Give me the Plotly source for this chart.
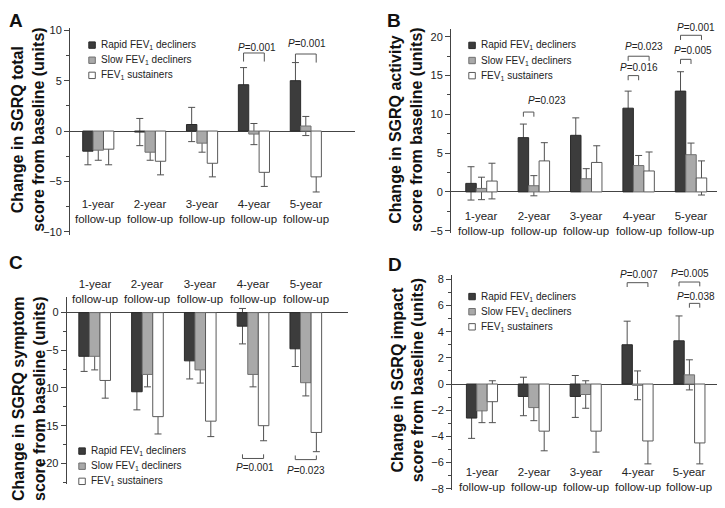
import plotly.graph_objects as go

followups = ["1-year follow-up", "2-year follow-up", "3-year follow-up",
             "4-year follow-up", "5-year follow-up"]
groups = ["Rapid FEV<sub>1</sub> decliners", "Slow FEV<sub>1</sub> decliners",
          "FEV<sub>1</sub> sustainers"]

# A - SGRQ total score
total_rapid = [-2.0, -0.1, 0.65, 4.6, 5.0]
total_rapid_err = [1.35, 1.35, 1.7, 1.7, 1.8]
total_slow = [-1.9, -2.1, -1.2, -0.3, 0.5]
total_slow_err = [1.0, 0.8, 0.9, 1.05, 0.95]
total_sust = [-1.8, -3.0, -3.2, -4.1, -4.55]
total_sust_err = [1.55, 1.35, 1.35, 1.4, 1.5]

# B - SGRQ activity score
activity_rapid = [1.1, 7.0, 7.3, 10.8, 13.0]
activity_rapid_err = [2.15, 1.75, 2.25, 2.2, 2.5]
activity_slow = [0.45, 0.8, 1.7, 3.4, 4.8]
activity_slow_err = [1.45, 1.3, 1.3, 1.3, 1.5]
activity_sust = [1.4, 4.0, 3.8, 2.7, 1.8]
activity_sust_err = [2.3, 2.35, 2.15, 2.45, 2.2]

# C - SGRQ symptom score
symptom_rapid = [-5.8, -10.5, -6.4, -1.8, -4.8]
symptom_rapid_err = [2.0, 2.4, 2.4, 2.35, 2.35]
symptom_slow = [-5.8, -8.2, -7.6, -8.2, -9.3]
symptom_slow_err = [1.8, 1.65, 1.75, 1.65, 1.75]
symptom_sust = [-9.0, -13.8, -14.4, -15.0, -15.9]
symptom_sust_err = [2.35, 2.3, 2.05, 2.0, 2.55]

# D - SGRQ impact score
impact_rapid = [-2.6, -0.95, -0.95, 3.0, 3.3]
impact_rapid_err = [1.55, 1.47, 1.6, 1.8, 1.9]
impact_slow = [-2.05, -1.8, -0.8, -0.1, 0.7]
impact_slow_err = [0.9, 1.0, 1.05, 1.1, 1.15]
impact_sust = [-1.35, -3.6, -3.6, -4.35, -4.5]
impact_sust_err = [1.6, 1.5, 1.6, 1.75, 1.6]

# comparisons: (follow-up index, group a, group b, P value)
total_p = [(3, 0, 2, "0.001"), (4, 0, 2, "0.001")]
activity_p = [(1, 0, 1, "0.023"), (3, 0, 1, "0.016"), (3, 0, 2, "0.023"),
              (4, 0, 2, "0.001"), (4, 0, 1, "0.005")]
symptom_p = [(3, 0, 2, "0.001"), (4, 0, 2, "0.023")]
impact_p = [(3, 0, 2, "0.007"), (4, 0, 2, "0.005"), (4, 1, 2, "0.038")]

W, H = 725, 508
OFF = 8  # page body margin: the figure is drawn 8px in from the window corner
FONT = "Liberation Sans, Arial, sans-serif"
fills = ["#3c3c3c", "#a9a9a9", "#ffffff"]
edges = ["#2a2a2a", "#707070", "#5a5a5a"]
shift = [-0.2, 0.0, 0.2]
BW = 0.2
ERRC = "#505050"


# screen pixel -> paper fraction
def px(x):
    return (x - OFF) / W


def py(y):
    return 1 - (y - OFF) / H


panels = [
    dict(letter="A", title="Change in SGRQ total<br>score from baseline (units)",
         series=[(total_rapid, total_rapid_err), (total_slow, total_slow_err),
                 (total_sust, total_sust_err)],
         pvals=total_p, brackets=[(7.75, 8.25, 0.05), (7.65, 8.7, 0.03)], tick=-0.85,
         xpx=(70, 355), ypx=(24.1, 234.8), yrange=[-10.3, 10.25], xrange=[-0.545, 4.948],
         dtick=5, minor=2.5, cat_y=-8.0, legend=(88.3, 41.7),
         title_xy=(28, 128), letter_xy=(16, 17)),
    dict(letter="B", title="Change in SGRQ activity<br>score from baseline (units)",
         series=[(activity_rapid, activity_rapid_err), (activity_slow, activity_slow_err),
                 (activity_sust, activity_sust_err)],
         pvals=activity_p,
         brackets=[(10.3, 11.75, 0.36), (15.0, 16.0, 0.1), (17.5, 18.7, 0.1),
                   (20.2, 21.2, 0.1), (17.1, 18.3, 0.14)], tick=-0.6,
         xpx=(451, 725), ypx=(25.0, 233.0), yrange=[-5.3, 21.05], xrange=[-0.582, 4.649],
         dtick=5, minor=2.5, cat_y=-4.1, legend=(468.3, 42),
         title_xy=(406, 128), letter_xy=(394, 17)),
    dict(letter="C", title="Change in SGRQ symptom<br>score from baseline (units)",
         series=[(symptom_rapid, symptom_rapid_err), (symptom_slow, symptom_slow_err),
                 (symptom_sust, symptom_sust_err)],
         pvals=symptom_p, brackets=[(-19.35, -20.6, 0.04), (-19.5, -20.9, 0.0)], tick=0.55,
         xpx=(66.7, 348.3), ypx=(298.3, 489.0), yrange=[-22.8, 2.05], xrange=[-0.53, 4.805],
         dtick=5, minor=2.5, cat_y=2.83, legend=(78.3, 455),
         title_xy=(29, 402), letter_xy=(16, 263)),
    dict(letter="D", title="Change in SGRQ impact<br>score from baseline (units)",
         series=[(impact_rapid, impact_rapid_err), (impact_slow, impact_slow_err),
                 (impact_sust, impact_sust_err)],
         pvals=impact_p, brackets=[(7.74, 8.36, 0.02), (7.79, 8.47, 0.02), (6.16, 6.71, 0.02)],
         tick=-0.33,
         xpx=(452, 720), ypx=(276.1, 494.7), yrange=[-8.1, 8.3], xrange=[-0.578, 4.59],
         dtick=2, minor=1, cat_y=-7.33, legend=(468.3, 297.7),
         title_xy=(408, 383), letter_xy=(395, 265)),
]

fig = go.Figure()
shapes = []
annotations = []
layout = {}
positions = list(range(len(followups)))


def note(x, y, text, size, **kw):
    # paper-positioned annotation (never hidden when outside an axis range)
    d = dict(x=x, y=y, xref="paper", yref="paper", showarrow=False, text=text,
             xanchor="center", yanchor="middle", font=dict(size=size, color="#222"))
    d.update(kw)
    annotations.append(d)


for n, p in enumerate(panels, start=1):
    sfx = "" if n == 1 else str(n)
    xa, ya = "x" + sfx, "y" + sfx
    xd = [px(p["xpx"][0]), px(p["xpx"][1])]
    yd = [py(p["ypx"][1]), py(p["ypx"][0])]
    xr, yr = p["xrange"], p["yrange"]

    def to_px(x, xd=xd, xr=xr):
        return xd[0] + (x - xr[0]) / (xr[1] - xr[0]) * (xd[1] - xd[0])

    def to_py(y, yd=yd, yr=yr):
        return yd[0] + (y - yr[0]) / (yr[1] - yr[0]) * (yd[1] - yd[0])

    # error bars first, so the solid bars drawn afterwards hide their inner half
    for k, (vals, errs) in enumerate(p["series"]):
        fig.add_trace(go.Bar(
            x=positions, y=vals, xaxis=xa, yaxis=ya, width=BW, offset=shift[k] - BW / 2,
            marker=dict(color="rgba(0,0,0,0)", line=dict(width=0)),
            error_y=dict(type="data", array=errs, symmetric=True, color=ERRC,
                         thickness=1, width=3.5),
            showlegend=False, hoverinfo="skip"))
    for k, (vals, errs) in enumerate(p["series"]):
        fig.add_trace(go.Bar(
            x=positions, y=vals, xaxis=xa, yaxis=ya, width=BW, offset=shift[k] - BW / 2,
            marker=dict(color=fills[k], line=dict(color=edges[k], width=1)),
            name=groups[k], showlegend=False))

    layout["xaxis" + sfx] = dict(domain=xd, range=xr, anchor=ya, visible=False,
                                 fixedrange=True)
    layout["yaxis" + sfx] = dict(
        domain=yd, range=yr, anchor=xa,
        showline=True, linecolor="#444", linewidth=1, ticks="outside", ticklen=5,
        tickwidth=1, tickcolor="#444", tick0=0, dtick=p["dtick"],
        minor=dict(dtick=p["minor"], ticks="outside", ticklen=3, tickcolor="#444"),
        zeroline=True, zerolinecolor="#444", zerolinewidth=1, showgrid=False,
        tickfont=dict(size=11, color="#222"), fixedrange=True)

    # follow-up labels
    for i, lab in enumerate(followups):
        note(to_px(i), to_py(p["cat_y"]), lab.replace(" ", "<br>"), 11.5)

    # significance brackets
    for (g, a, b, pv), (by, ly, dx) in zip(p["pvals"], p["brackets"]):
        x0, x1 = g + shift[a], g + shift[b]
        t = p["tick"]
        shapes.append(dict(type="path", xref=xa, yref=ya,
                           path=f"M {x0},{by + t} L {x0},{by} L {x1},{by} L {x1},{by + t}",
                           line=dict(color="#555", width=1)))
        note(to_px((x0 + x1) / 2 + dx), to_py(ly), "<i>P</i>=" + pv, 10)

    # legend
    lx, ly0 = p["legend"]
    for k, name in enumerate(groups):
        cy = ly0 + k * 15.4
        shapes.append(dict(type="rect", xref="paper", yref="paper",
                           x0=px(lx + 0.5), x1=px(lx + 7), y0=py(cy + 3.25), y1=py(cy - 3.25),
                           fillcolor=fills[k], line=dict(color=edges[k], width=1)))
        note(px(lx + 10.5), py(cy), name, 10, xanchor="left")

    # axis title and panel letter
    tx, ty = p["title_xy"]
    note(px(tx), py(ty), "<b>" + p["title"] + "</b>", 16, textangle=-90,
         font=dict(size=16, color="#111"))
    lx2, ly2 = p["letter_xy"]
    note(px(lx2), py(ly2), "<b>" + p["letter"] + "</b>", 19,
         font=dict(size=19, color="#111"))

fig.update_layout(
    width=W, height=H, margin=dict(l=0, r=0, t=0, b=0),
    barmode="overlay", plot_bgcolor="white", paper_bgcolor="white",
    font=dict(family=FONT, color="#222"),
    shapes=shapes, annotations=annotations, showlegend=False,
    **layout)

fig.write_html("out.html")
